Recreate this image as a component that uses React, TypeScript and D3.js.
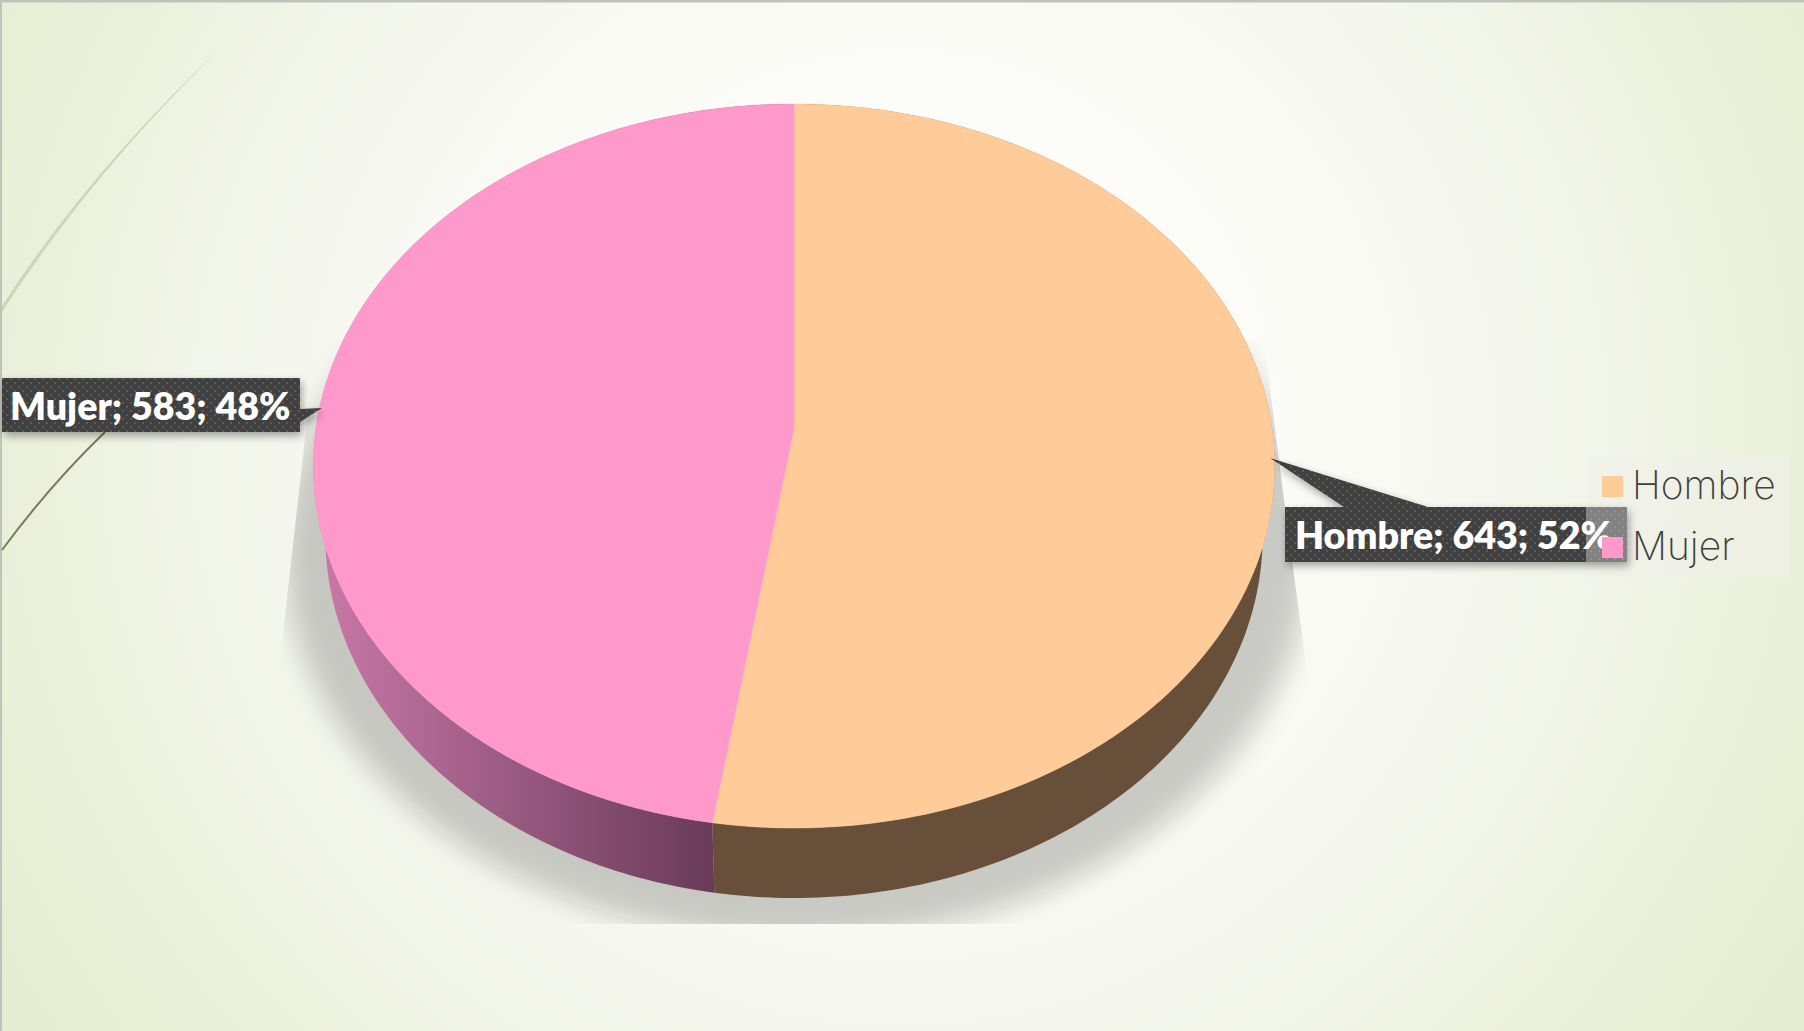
import React from "react";
import * as d3 from "d3";

const categories = ["Hombre", "Mujer"];
const values = [643, 583];
const percents = [52, 48];
const topColors = ["#ffcc99", "#ff99cc"];

const W = 1804, H = 1031;
const cx = 794, apexY = 428, A = 478, R = 358, K = -0.105, depth = 70;

function project(theta: number, dy = 0, sx = 1): [number, number] {
  const u = Math.sin(theta), v = -Math.cos(theta), w = 1 + K * v;
  return [cx + (sx * A * u) / w, apexY + dy + (R * v) / w];
}
function arcPts(a0: number, a1: number, dy = 0, sx = 1) {
  const n = Math.max(2, Math.ceil(Math.abs(a1 - a0) * 60));
  return d3.range(n + 1).map((i) => project(a0 + ((a1 - a0) * i) / n, dy, sx));
}
const line = d3.line();

export default function App() {
  const arcs = d3.pie<number>().sort(null)(values);
  const apex: [number, number] = [cx, apexY];
  const wall = (a0: number, a1: number) =>
    line([...arcPts(a0, a1, 0), ...arcPts(a1, a0, depth, 0.975)]) + "Z";
  const labelFont = "'Lato','Open Sans',sans-serif";
  return (
    <svg width={W} height={H} style={{ position: "absolute", left: 0, top: 0, display: "block" }}>
      <defs>
        <radialGradient id="bg" gradientUnits="userSpaceOnUse" cx={900} cy={430} r={1080}>
          <stop offset="0" stopColor="#ffffff" />
          <stop offset="0.28" stopColor="#fcfdf9" />
          <stop offset="0.48" stopColor="#f8f9f2" />
          <stop offset="0.56" stopColor="#f5f7ee" />
          <stop offset="0.66" stopColor="#f2f5e9" />
          <stop offset="0.75" stopColor="#eef2e0" />
          <stop offset="0.8" stopColor="#ebf0db" />
          <stop offset="0.92" stopColor="#e8eed5" />
          <stop offset="1" stopColor="#e6edd2" />
        </radialGradient>
        <linearGradient id="purple" gradientUnits="userSpaceOnUse" x1={320} x2={716} y1={0} y2={0}>
          <stop offset="0" stopColor="#c878a8" />
          <stop offset="1" stopColor="#683a58" />
        </linearGradient>
        <filter id="blur" x="-20%" y="-20%" width="140%" height="140%">
          <feGaussianBlur stdDeviation="14" />
        </filter>
        <filter id="boxShadow" x="-10%" y="-30%" width="120%" height="170%">
          <feDropShadow dx="2" dy="4" stdDeviation="4" floodColor="#000" floodOpacity="0.35" />
        </filter>
        <pattern id="dots" width="8" height="8" patternUnits="userSpaceOnUse">
          <rect width="8" height="8" fill="#3f3f3f" />
          <rect x="2" y="2" width="2" height="2" fill="#5a5a5a" />
          <rect x="6" y="6" width="2" height="2" fill="#5a5a5a" />
        </pattern>
        <clipPath id="shadowClip">
          <polygon points="316,340 1264,340 1284,500 1308,680 1308,924 276,924 280,660" />
        </clipPath>
      </defs>
      <rect width={W} height={H} fill="url(#bg)" />
      <rect x={0} y={0} width={W} height={2.5} fill="#bfc3bb" />
      <rect x={0} y={0} width={2} height={H} fill="#bfc3bb" />
      <path d="M2 306 Q 90 170 224 45 Q 92 172 2 312Z" fill="#cfd4bd" />
      <path d="M2 550 Q 50 485 105 432" fill="none" stroke="#7d7a5c" strokeWidth="2" />

      <g clipPath="url(#shadowClip)">
        <ellipse cx={797} cy={552} rx={512} ry={388} fill="#111" opacity={0.2} filter="url(#blur)" />
      </g>

      {arcs.map((d, i) => (
        <path key={"w" + i} d={wall(d.startAngle, d.endAngle)} fill={i === 0 ? "#684f3a" : "url(#purple)"} />
      ))}
      {arcs.map((d, i) => (
        <path key={"t" + i}
          d={line([apex, ...arcPts(d.startAngle, d.endAngle)]) + "Z"}
          fill={topColors[i]} stroke={topColors[i]} strokeWidth={0.5} />
      ))}

      <rect x={1586} y={456} width={203} height={121} fill="#f0f0ea" opacity={0.5} />

      <g filter="url(#boxShadow)">
        <path d="M1270 458 L1428 507 L1344 507Z M1285 507 H1627 V562 H1285Z" fill="url(#dots)" />
      </g>
      <text x={1295} y={549} fontFamily={labelFont} fontWeight={800} fontSize={37.6} fill="#fff">
        {`${categories[0]}; ${values[0]}; ${percents[0]}%`}
      </text>
      <rect x={1586} y={507} width={41} height={55} fill="#ffffff" opacity={0.35} />

      <g filter="url(#boxShadow)">
        <path d="M2 378 H300 V409 L322 408 L300 422 V432 H2Z" fill="url(#dots)" />
      </g>
      <text x={10} y={420} fontFamily={labelFont} fontWeight={800} fontSize={37.6} fill="#fff">
        {`${categories[1]}; ${values[1]}; ${percents[1]}%`}
      </text>

      {categories.map((c, i) => (
        <g key={c}>
          <rect x={1602} y={476 + i * 61} width={21} height={21} fill={topColors[i]} />
          <text x={1632} y={499 + i * 60.5} fontFamily="'Inter','Lato',sans-serif" fontWeight={200} fontSize={39} fill="#404040">{c}</text>
        </g>
      ))}
    </svg>
  );
}
